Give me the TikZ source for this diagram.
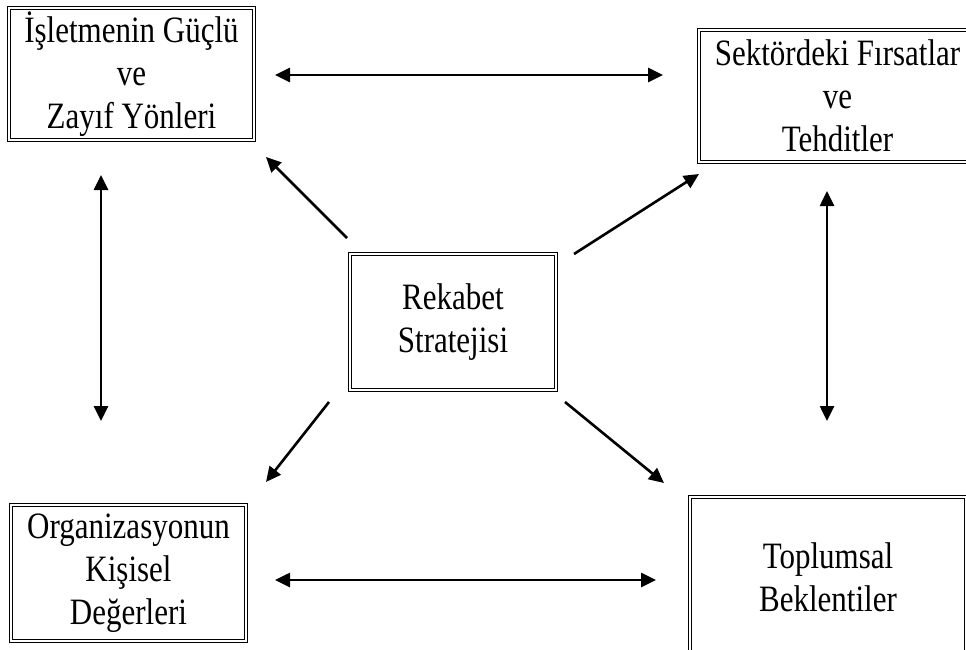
\documentclass[tikz,border=0pt]{standalone}
\usepackage{fontspec}
\setmainfont{Liberation Serif}
\usetikzlibrary{arrows.meta}
\newcommand{\tl}[1]{\scalebox{1}[1.2]{#1}}
\begin{document}
\begin{tikzpicture}[x=1pt,y=-1pt,
  dbox/.style={draw=black, double=white, double distance=1.6pt, line width=1.3pt,
    rectangle, align=center, inner sep=0pt,
    font=\fontsize{31}{43}\selectfont},
  conn/.style={line width=2.6pt, -{Triangle[length=15pt,width=14pt]}},
  biconn/.style={line width=2.6pt, {Triangle[length=15pt,width=14pt]}-{Triangle[length=15pt,width=14pt]}}
]
\useasboundingbox (0,0) rectangle (966,650);
\fill[white] (0,0) rectangle (966,650);

\node[dbox, minimum width=245pt, minimum height=132pt] (sw) at (131.5,74) {\tl{İşletmenin Güçlü}\\\tl{ve}\\\tl{Zayıf Yönleri}};
\node[dbox, minimum width=277pt, minimum height=132pt] (ot) at (837.5,96) {\tl{Sektördeki Fırsatlar}\\\tl{ve}\\\tl{Tehditler}};
\node[dbox, minimum width=206pt, minimum height=136pt] (rs) at (453,322) {\tl{Rekabet}\\\tl{Stratejisi}};
\node[dbox, minimum width=235pt, minimum height=136pt] (ok) at (128.5,573) {\tl{Organizasyonun}\\\tl{Kişisel}\\\tl{Değerleri}};
\node[dbox, minimum width=276pt, minimum height=160pt] (tb) at (828,577) {\tl{Toplumsal}\\\tl{Beklentiler}};

\coordinate (t1) at (275,75);
\coordinate (t2) at (663,75);
\coordinate (b1) at (275,580);
\coordinate (b2) at (656,580);
\coordinate (l1) at (101,175);
\coordinate (l2) at (101,421);
\coordinate (r1) at (827,191);
\coordinate (r2) at (827,421);
\coordinate (nw0) at (347,238);
\coordinate (nw1) at (266,157);
\coordinate (ne0) at (574,254);
\coordinate (ne1) at (699,174);
\coordinate (sw0) at (329,402);
\coordinate (sw1) at (266,482);
\coordinate (se0) at (565,402);
\coordinate (se1) at (664,483);

\draw[biconn] (t1) -- (t2);
\draw[biconn] (b1) -- (b2);
\draw[biconn] (l1) -- (l2);
\draw[biconn] (r1) -- (r2);
\draw[conn] (nw0) -- (nw1);
\draw[conn] (ne0) -- (ne1);
\draw[conn] (sw0) -- (sw1);
\draw[conn] (se0) -- (se1);
\end{tikzpicture}
\end{document}
